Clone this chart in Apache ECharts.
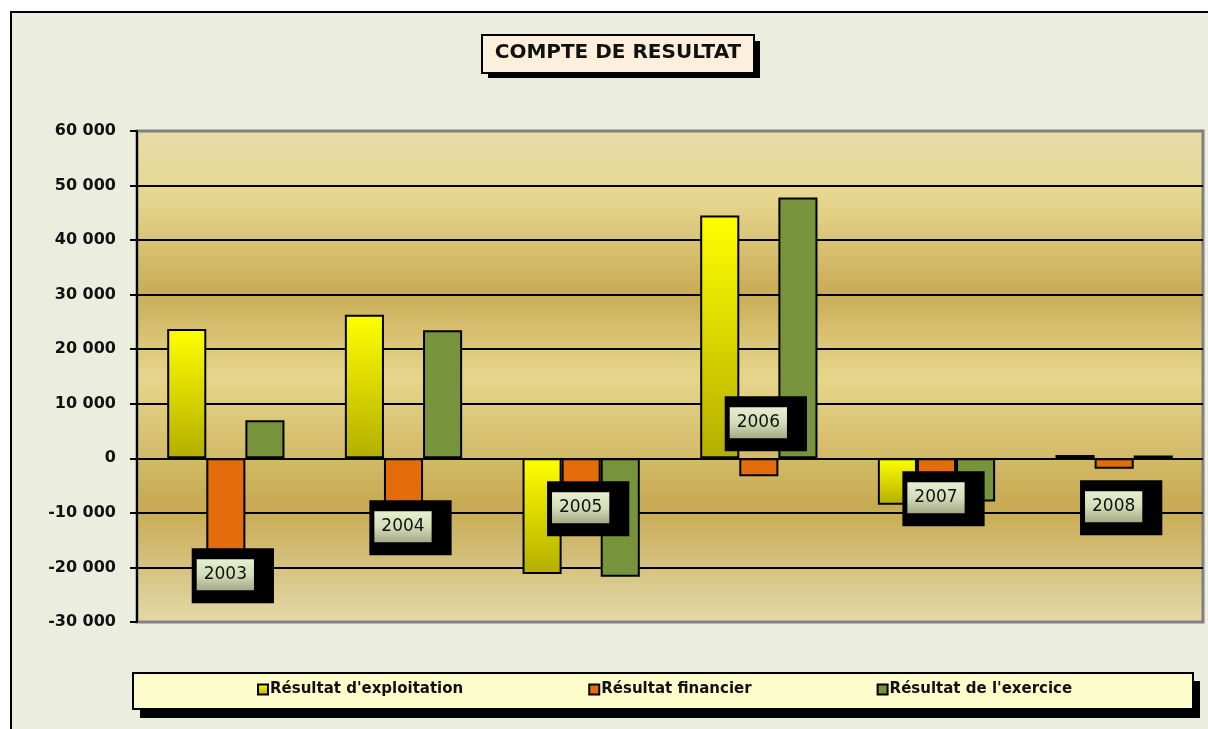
<!DOCTYPE html>
<html>
<head>
<meta charset="utf-8">
<script src="https://cdn.jsdelivr.net/npm/echarts@6/dist/echarts.min.js"></script>
<style>
  html, body { margin: 0; padding: 0; background: #fff; }
  #chart { width: 1208px; height: 729px; }
</style>
</head>
<body>
<div id="chart"></div>
<script>
const years = ["2003", "2004", "2005", "2006", "2007", "2008"];
const exploitation = [23700, 26300, -21200, 44500, -8500, 600];
const financier = [-17500, -8500, -6000, -3300, -5000, -1900];
const exercice = [7000, 23500, -21700, 47800, -7900, 500];
const yTicks = { min: -30000, max: 60000, step: 10000 };

// where the year boxes sit, relative to the top of each orange bar
const labelShift = [90, 42, 23, -62, 13, 22];

const chart = echarts.init(document.getElementById("chart"));

function fmt(v) {
  const s = String(Math.abs(v)).replace(/\B(?=(\d{3})+(?!\d))/g, " ");
  return (v < 0 ? "-" : "") + s;
}

const yellow = new echarts.graphic.LinearGradient(0, 0, 0, 1, [
  { offset: 0, color: "#ffff00" },
  { offset: 1, color: "#b3ae00" },
]);

const plotBg = new echarts.graphic.LinearGradient(0, 0, 0, 1, [
  { offset: 0, color: "#e6dcab" },
  { offset: 0.14, color: "#e6d68e" },
  { offset: 0.33, color: "#c9ad57" },
  { offset: 0.5, color: "#e6d68c" },
  { offset: 0.76, color: "#c7aa52" },
  { offset: 1, color: "#e4d9aa" },
]);

const yearBox = new echarts.graphic.LinearGradient(0, 0, 0, 1, [
  { offset: 0, color: "#e6efcf" },
  { offset: 0.5, color: "#d3ddb8" },
  { offset: 1, color: "#a6a985" },
]);

const barBase = {
  type: "bar",
  barGap: "0%",
  barCategoryGap: "34%",
};

const option = {
  backgroundColor: "#ffffff",
  animation: false,
  graphic: [
    // chart area
    {
      type: "rect",
      z: -100,
      shape: { x: 11, y: 12, width: 1300, height: 800 },
      style: { fill: "#ebeddf", stroke: "#000", lineWidth: 2 },
    },
    // title box + shadow
    {
      type: "rect",
      z: 0,
      shape: { x: 488, y: 41, width: 272, height: 37 },
      style: { fill: "#000" },
    },
    {
      type: "rect",
      z: 1,
      shape: { x: 482, y: 35, width: 272, height: 38 },
      style: { fill: "#fcf0dc", stroke: "#000", lineWidth: 2 },
    },
    // legend box + shadow
    {
      type: "rect",
      z: 0,
      shape: { x: 140, y: 681, width: 1060, height: 37 },
      style: { fill: "#000" },
    },
    {
      type: "rect",
      z: 1,
      shape: { x: 133, y: 673, width: 1060, height: 36 },
      style: { fill: "#fdfccb", stroke: "#000", lineWidth: 2 },
    },
  ],
  title: {
    text: "COMPTE DE RESULTAT",
    left: 618,
    top: 43,
    textAlign: "center",
    padding: 0,
    textStyle: {
      fontFamily: "DejaVu Sans",
      fontSize: 20,
      fontWeight: "bold",
      color: "#111",
    },
  },
  legend: {
    left: 257,
    top: 682,
    padding: 0,
    itemGap: 125,
    itemWidth: 10,
    itemHeight: 10,
    icon: "rect",
    textStyle: {
      fontFamily: "DejaVu Sans",
      fontSize: 15,
      fontWeight: "bold",
      color: "#111",
      padding: [0, 0, 0, -3],
    },
  },
  grid: {
    left: 137,
    right: 5,
    top: 131,
    bottom: 107,
    show: true,
    backgroundColor: plotBg,
    borderColor: "#808080",
    borderWidth: 3,
  },
  xAxis: {
    type: "category",
    data: years,
    axisLabel: { show: false },
    axisTick: { show: false },
    axisLine: { show: false },
  },
  yAxis: {
    type: "value",
    min: yTicks.min,
    max: yTicks.max,
    interval: yTicks.step,
    axisLine: { show: true, lineStyle: { color: "#000", width: 2 } },
    axisTick: { show: true, length: 7, lineStyle: { color: "#000", width: 2 } },
    axisLabel: {
      margin: 21,
      fontFamily: "DejaVu Sans",
      fontSize: 16,
      fontWeight: "bold",
      color: "#111",
      formatter: fmt,
    },
    splitLine: {
      show: true,
      showMinLine: false,
      showMaxLine: false,
      lineStyle: { color: "#000", width: 2 },
    },
  },
  series: [
    {
      ...barBase,
      name: "Résultat d'exploitation",
      data: exploitation,
      itemStyle: { color: yellow, borderColor: "#000", borderWidth: 2 },
    },
    {
      ...barBase,
      name: "Résultat financier",
      data: financier.map((v, i) => ({
        value: v,
        label: { offset: [7, labelShift[i]] },
      })),
      itemStyle: { color: "#e46c0a", borderColor: "#000", borderWidth: 2 },
      label: {
        show: true,
        position: "insideTop",
        distance: 0,
        formatter: "{a|{b}}",
        fontFamily: "DejaVu Sans",
        fontSize: 17,
        lineHeight: 31,
        color: "#111",
        padding: [11, 20, 13, 5],
        backgroundColor: "#000",
        rich: {
          a: {
            fontFamily: "DejaVu Sans",
            fontSize: 17,
            lineHeight: 31,
            color: "#111",
            padding: [7, 7, 7, 7],
            backgroundColor: yearBox,
          },
        },
      },
    },
    {
      ...barBase,
      name: "Résultat de l'exercice",
      data: exercice,
      itemStyle: { color: "#77933c", borderColor: "#000", borderWidth: 2 },
    },
  ],
};

chart.setOption(option);
</script>
</body>
</html>
